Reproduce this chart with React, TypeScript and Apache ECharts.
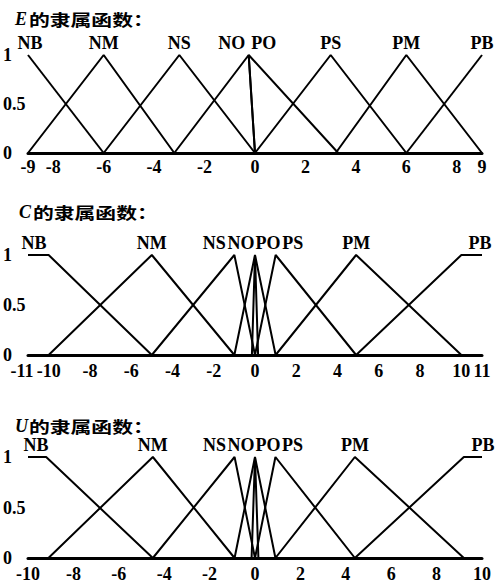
import React, { useEffect, useRef } from 'react';
import * as echarts from 'echarts';

// ---------- data ----------
const MF_NAMES = ['NB', 'NM', 'NS', 'NO', 'PO', 'PS', 'PM', 'PB'];

const E_TICKS = [-9, -8, -6, -4, -2, 0, 2, 4, 6, 8, 9];
const E_NB = [[-9, 1], [-6, 0]];
const E_NM = [[-9, 0], [-6, 1], [-3.2, 0]];
const E_NS = [[-6, 0], [-3, 1], [0, 0]];
const E_NO = [[-3.2, 0], [-0.25, 1], [0, 0]];
const E_PO = [[0, 0], [-0.25, 1], [3.3, 0]];
const E_PS = [[0, 0], [3, 1], [6, 0]];
const E_PM = [[3.2, 0], [6, 1], [9, 0]];
const E_PB = [[6, 0], [9, 1]];

const C_TICKS = [-11, -10, -8, -6, -4, -2, 0, 2, 4, 6, 8, 10, 11];
const C_NB = [[-11, 1], [-10, 1], [-5, 0]];
const C_NM = [[-10, 0], [-5, 1], [-1, 0]];
const C_NS = [[-5, 0], [-1, 1], [0, 0]];
const C_NO = [[-1, 0], [0, 1], [0.15, 0]];
const C_PO = [[-0.15, 0], [0, 1], [1, 0]];
const C_PS = [[0, 0], [1, 1], [4.9, 0]];
const C_PM = [[1, 0], [4.9, 1], [10, 0]];
const C_PB = [[4.9, 0], [10, 1], [11, 1]];

const U_TICKS = [-10, -8, -6, -4, -2, 0, 2, 4, 6, 8, 10];
const U_NB = [[-10, 1], [-9.2, 1], [-4.5, 0]];
const U_NM = [[-9.1, 0], [-4.5, 1], [-0.9, 0]];
const U_NS = [[-4.5, 0], [-0.9, 1], [0, 0]];
const U_NO = [[-0.9, 0], [0, 1], [0.15, 0]];
const U_PO = [[-0.15, 0], [0, 1], [0.9, 0]];
const U_PS = [[0, 0], [0.9, 1], [4.4, 0]];
const U_PM = [[0.9, 0], [4.4, 1], [9.2, 0]];
const U_PB = [[4.4, 0], [9.2, 1], [10, 1]];

const Y_TICKS = [0, 0.5, 1];

const TITLE_VARS = ['E', 'C', 'U'];
const TITLE_TEXT = '的隶属函数：';

// ---------- layout / style ----------
const SERIF = "'Liberation Serif', 'Times New Roman', serif";
const CJK = "'Noto Sans CJK SC', sans-serif";

const PANELS = [
  {
    range: [-9, 9], ticks: E_TICKS, mfs: [E_NB, E_NM, E_NS, E_NO, E_PO, E_PS, E_PM, E_PB],
    // [point index of label, x offset px]
    labelAt: [[0, 2], [1, 0], [1, 0], [1, -17], [1, 15], [1, 0], [1, 0], [1, 0]],
    grid: { top: 55, height: 98 }, xMargin: 5, titleY: 20, titleX: 15, minShift: 0,
  },
  {
    range: [-11, 11], ticks: C_TICKS, mfs: [C_NB, C_NM, C_NS, C_NO, C_PO, C_PS, C_PM, C_PB],
    labelAt: [[0, 6], [1, 0], [1, -20], [1, -14], [1, 13], [1, 17], [1, 0], [2, -2]],
    grid: { top: 255, height: 100 }, xMargin: 7, titleY: 213, titleX: 19, minShift: 6,
  },
  {
    range: [-10, 10], ticks: U_TICKS, mfs: [U_NB, U_NM, U_NS, U_NO, U_PO, U_PS, U_PM, U_PB],
    labelAt: [[0, 8], [1, 0], [1, -20], [1, -14], [1, 13], [1, 17], [1, 0], [2, 1]],
    grid: { top: 457, height: 101 }, xMargin: 7, titleY: 427, titleX: 15, minShift: 0,
  },
];

export default function App() {
  const ref = useRef<HTMLDivElement>(null);

  useEffect(() => {
    if (!ref.current) return;
    const chart = echarts.init(ref.current, undefined, { renderer: 'svg' });

    const grids: any[] = [];
    const xAxes: any[] = [];
    const yAxes: any[] = [];
    const series: any[] = [];
    const graphics: any[] = [];

    const labelStyle = {
      color: '#000', fontFamily: SERIF, fontWeight: 'bold', fontSize: 18,
    };

    PANELS.forEach((p, i) => {
      grids.push({ left: 27, right: 16, top: p.grid.top, height: p.grid.height });
      const mainX = xAxes.length;
      // main axis: line + all labels except the leftmost
      xAxes.push({
        type: 'value', gridIndex: i, min: p.range[0], max: p.range[1],
        axisLine: { show: true, onZero: false, lineStyle: { color: '#000', width: 3 } },
        axisTick: { show: false },
        splitLine: { show: false },
        axisLabel: {
          customValues: p.ticks.slice(1), margin: p.xMargin,
          showMinLabel: true, showMaxLabel: true, hideOverlap: false, ...labelStyle,
        },
      });
      // companion axis: leftmost label only (so it is not dropped next to its neighbour)
      xAxes.push({
        type: 'value', gridIndex: i, min: p.range[0], max: p.range[1], position: 'bottom',
        axisLine: { show: false, onZero: false }, axisTick: { show: false },
        splitLine: { show: false },
        axisLabel: {
          customValues: p.ticks.slice(0, 1), margin: p.xMargin,
          padding: [0, p.minShift * 2, 0, 0],
          showMinLabel: true, showMaxLabel: true, hideOverlap: false, ...labelStyle,
        },
      });
      yAxes.push({
        type: 'value', gridIndex: i, min: 0, max: 1,
        axisLine: { show: false }, axisTick: { show: false }, splitLine: { show: false },
        axisLabel: {
          customValues: Y_TICKS, align: 'left', margin: 25,
          showMinLabel: true, showMaxLabel: true, ...labelStyle,
        },
      });
      p.mfs.forEach((pts, k) => {
        const [li, dx] = p.labelAt[k];
        series.push({
          type: 'line', name: MF_NAMES[k], xAxisIndex: mainX, yAxisIndex: i,
          symbol: 'circle', symbolSize: 0, showSymbol: true,
          lineStyle: { color: '#000', width: 2 },
          itemStyle: { color: '#000' },
          silent: true,
          data: pts.map((pt, j) =>
            j === li
              ? {
                  value: pt,
                  label: {
                    show: true, formatter: MF_NAMES[k], position: 'top', distance: 3,
                    offset: [dx, 0], ...labelStyle,
                  },
                }
              : pt
          ),
        });
      });
      graphics.push({
        type: 'text', left: p.titleX, top: p.titleY - 10,
        style: {
          text: TITLE_VARS[i], fill: '#000',
          font: `italic bold 18px ${SERIF}`,
        },
      });
      graphics.push({
        type: 'text', left: p.titleX + 14, top: p.titleY - 9, scaleX: 1.3,
        style: {
          text: TITLE_TEXT, fill: '#000',
          font: `bold 16px ${CJK}`,
        },
      });
    });

    chart.setOption({
      animation: false,
      backgroundColor: '#fff',
      grid: grids,
      xAxis: xAxes,
      yAxis: yAxes,
      series,
      graphic: graphics,
    });

    return () => chart.dispose();
  }, []);

  return (
    <div
      ref={ref}
      style={{ position: 'fixed', left: 0, top: 0, width: 498, height: 585, background: '#fff' }}
    />
  );
}
